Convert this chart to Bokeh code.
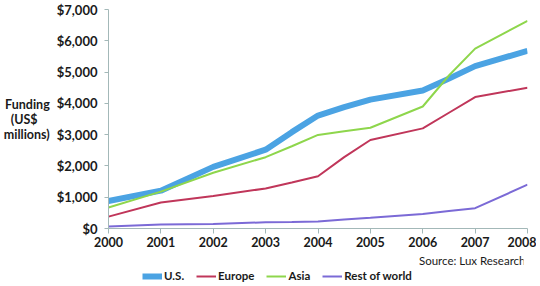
from bokeh.plotting import figure
from bokeh.models import NumeralTickFormatter, Legend, LegendItem, Label, FixedTicker, Range1d
from bokeh.layouts import column
from bokeh.embed import file_html
from bokeh.resources import INLINE

years = [2000, 2001, 2002, 2003, 2003.5, 2004, 2004.5, 2005, 2006, 2006.5, 2007, 2008]
us = [880, 1210, 1970, 2520, 3080, 3610, 3880, 4120, 4410, 4790, 5190, 5680]
europe = [380, 830, 1040, 1280, 1470, 1670, 2280, 2830, 3200, 3700, 4200, 4500]
asia = [670, 1180, 1780, 2280, 2630, 2990, 3110, 3220, 3900, 4890, 5750, 6640]
rest = [60, 130, 140, 200, 210, 225, 290, 340, 460, 560, 650, 1400]
x_ticks = [2000, 2001, 2002, 2003, 2004, 2005, 2006, 2007, 2008]
y_ticks = [0, 1000, 2000, 3000, 4000, 5000, 6000, 7000]
series_names = ["U.S.", "Europe", "Asia", "Rest of world"]
y_title = "Funding\n(US$\u00a0\u00a0\u00a0\u00a0\nmillions)"
source_text = "Source: Lux Research"

FONT = "Lato"
AXIS_COLOR = "#A3B8B8"
TEXT_COLOR = "#1a1a1a"
COLORS = ["#4BA3E3", "#C0365A", "#8ED64C", "#7B6AD6"]
WIDTHS = [6, 2, 2, 2]

p = figure(frame_width=419, frame_height=219, output_backend="svg", toolbar_location=None,
           x_range=Range1d(2000, 2008), y_range=Range1d(0, 7000),
           min_border_left=104, min_border_right=9, min_border_top=9, min_border_bottom=24)
p.outline_line_color = None
p.xgrid.visible = False
p.ygrid.visible = False

series = [us, europe, asia, rest]
for ys, c, w in zip(series, COLORS, WIDTHS):
    p.line(years, ys, line_color=c, line_width=w)

for ax in (p.xaxis[0], p.yaxis[0]):
    ax.axis_line_color = AXIS_COLOR
    ax.major_tick_line_color = AXIS_COLOR
    ax.minor_tick_line_color = None
    ax.major_tick_in = 0
    ax.major_label_text_font = FONT
    ax.major_label_text_font_style = "bold"
    ax.major_label_text_color = TEXT_COLOR

p.xaxis.ticker = FixedTicker(ticks=x_ticks)
p.xaxis.major_tick_out = 5
p.xaxis.major_label_standoff = 3
p.xaxis.major_label_text_font_size = "12.5px"

p.yaxis.ticker = FixedTicker(ticks=y_ticks)
p.yaxis.formatter = NumeralTickFormatter(format="$0,0")
p.yaxis.major_tick_out = 4
p.yaxis.major_label_standoff = 7
p.yaxis.major_label_text_font_size = "13px"
p.yaxis.axis_label = y_title
p.yaxis.axis_label_orientation = "horizontal"
p.yaxis.axis_label_text_font = FONT
p.yaxis.axis_label_text_font_style = "bold"
p.yaxis.axis_label_text_font_size = "12.5px"
p.yaxis.axis_label_text_line_height = 1.0
p.yaxis.axis_label_text_color = TEXT_COLOR
p.yaxis.axis_label_standoff = 4

# footer figure (frame aligned with the main frame): source note + legend
p2 = figure(width=532, height=30, output_backend="svg", toolbar_location=None,
            x_range=p.x_range, y_range=Range1d(20000, 21000),
            min_border_left=104, min_border_right=9, min_border_top=0, min_border_bottom=0,
            x_axis_location=None, y_axis_location=None)
p2.outline_line_color = None
p2.xgrid.visible = False
p2.ygrid.visible = False

items = []
for name, ys, c, w in zip(series_names, series, COLORS, WIDTHS):
    r = p2.line(years, ys, line_color=c, line_width=w)  # out of view; used for legend swatches
    items.append(LegendItem(label=name, renderers=[r]))

p2.add_layout(Label(x=417, y=22, x_units="screen", y_units="screen", text=source_text,
                    text_align="right", text_baseline="middle", text_font=FONT,
                    text_font_size="11.5px", text_color=TEXT_COLOR))

legend = Legend(items=items, orientation="horizontal", location=(34, 0), border_line_color=None,
                background_fill_alpha=0, padding=0, margin=0, spacing=12,
                glyph_width=20, glyph_height=12, label_standoff=2, label_height=12,
                label_text_font=FONT, label_text_font_style="bold", label_text_font_size="11.5px",
                label_text_color=TEXT_COLOR)
p2.add_layout(legend, "center")

layout = column(p, p2, spacing=0)
open("out.html", "w").write(file_html(layout, INLINE))
